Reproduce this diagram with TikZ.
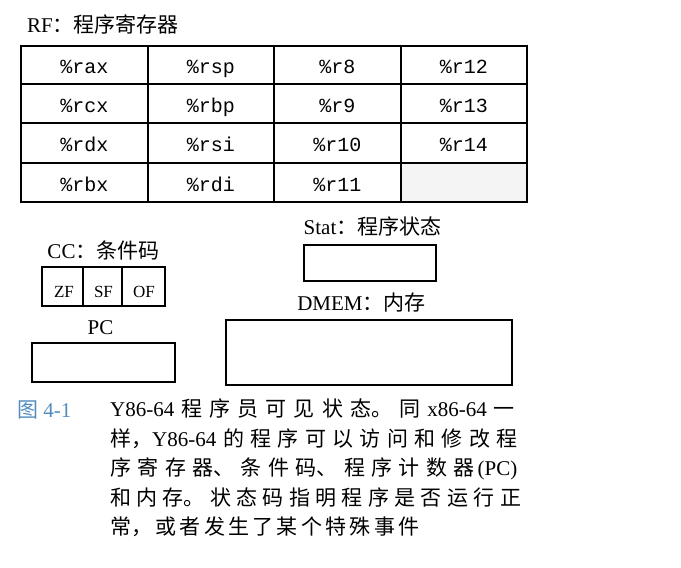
\documentclass[tikz,border=0pt]{standalone}
\usepackage{fontspec}
\setmainfont{Liberation Serif}
\setmonofont{Liberation Mono}
\newfontfamily\cjk{Noto Sans CJK SC}
\XeTeXlinebreaklocale "zh"
\XeTeXlinebreakskip=3.3pt plus 12pt minus 3pt
\newcommand\en[1]{{\rmfamily #1}}
\definecolor{figblue}{RGB}{80,140,190}
\tikzset{
  regname/.style={font=\fontsize{20}{24}\selectfont\ttfamily, anchor=base},
  lbl/.style={font=\fontsize{21}{24}\selectfont, inner sep=0pt},
  flagname/.style={font=\fontsize{17}{20}\selectfont, anchor=base, inner sep=0pt},
  statebox/.style={draw, line width=2pt},
  gridline/.style={line width=1.5pt},
}

\begin{document}
\begin{tikzpicture}[x=1pt,y=-1pt]
\useasboundingbox (0,0) rectangle (681,568);
% RF: register file
\node[lbl, anchor=west] (rflbl) at (27,24) {RF{\cjk ：程序寄存器}};
\fill[gray!9] (401,163) rectangle (527,202);
\foreach \x in {148,274,401} \draw[gridline] (\x,46) -- (\x,202);
\foreach \y in {84,123,163} \draw[gridline] (21,\y) -- (527,\y);
\draw[statebox] (21,46) rectangle (527,202);
\foreach \r/\yy in {rax/73.5,rcx/112,rdx/151.5,rbx/191}
  \node[regname] (\r) at (84.5,\yy) {\%\r};
\foreach \r/\yy in {rsp/73.5,rbp/112,rsi/151.5,rdi/191}
  \node[regname] (\r) at (211,\yy) {\%\r};
\foreach \r/\yy in {r8/73.5,r9/112,r10/151.5,r11/191}
  \node[regname] (\r) at (337.5,\yy) {\%\r};
\foreach \r/\yy in {r12/73.5,r13/112,r14/151.5}
  \node[regname] (\r) at (464,\yy) {\%\r};

% CC: condition codes
\node[lbl] (cclbl) at (103.5,250) {CC{\cjk ：条件码}};
\draw[statebox] (42,267) rectangle (165,306);
\draw[statebox] (83,267) -- (83,306);
\draw[statebox] (122,267) -- (122,306);
\node[flagname] (zf) at (64,297) {ZF};
\node[flagname] (sf) at (103.5,297) {SF};
\node[flagname] (of) at (144,297) {OF};

% PC
\node[lbl] (pclbl) at (100.5,328) {PC};
\draw[statebox] (32,343) rectangle (175,382);

% Stat
\node[lbl] (statlbl) at (372.5,226) {Stat{\cjk ：程序状态}};
\draw[statebox] (304,245) rectangle (436,281);

% DMEM
\node[lbl] (dmemlbl) at (361.5,302.5) {DMEM{\cjk ：内存}};
\draw[statebox] (226,320) rectangle (512,385);

% caption
\node[lbl, text=figblue, anchor=west] (fignum) at (17,410) {{\cjk 图} 4-1};
\node[anchor=north west, inner sep=0pt, text width=418pt,
      font=\fontsize{21}{29.5}\selectfont\cjk] (captext) at (110,399)
  {\noindent\parfillskip=0pt
   \en{Y86-64} 程序员可见状态。同 \en{x86-64} 一\par
   \noindent 样，\en{Y86-64} 的程序可以访问和修改程\par
   \noindent 序寄存器、条件码、程序计数器\kern3pt\en{(PC)}\par
   \noindent 和内存。状态码指明程序是否运行正\par
   \noindent\parfillskip=0pt plus 1fil 常，或者发生了某个特殊事件};
\end{tikzpicture}
\end{document}
